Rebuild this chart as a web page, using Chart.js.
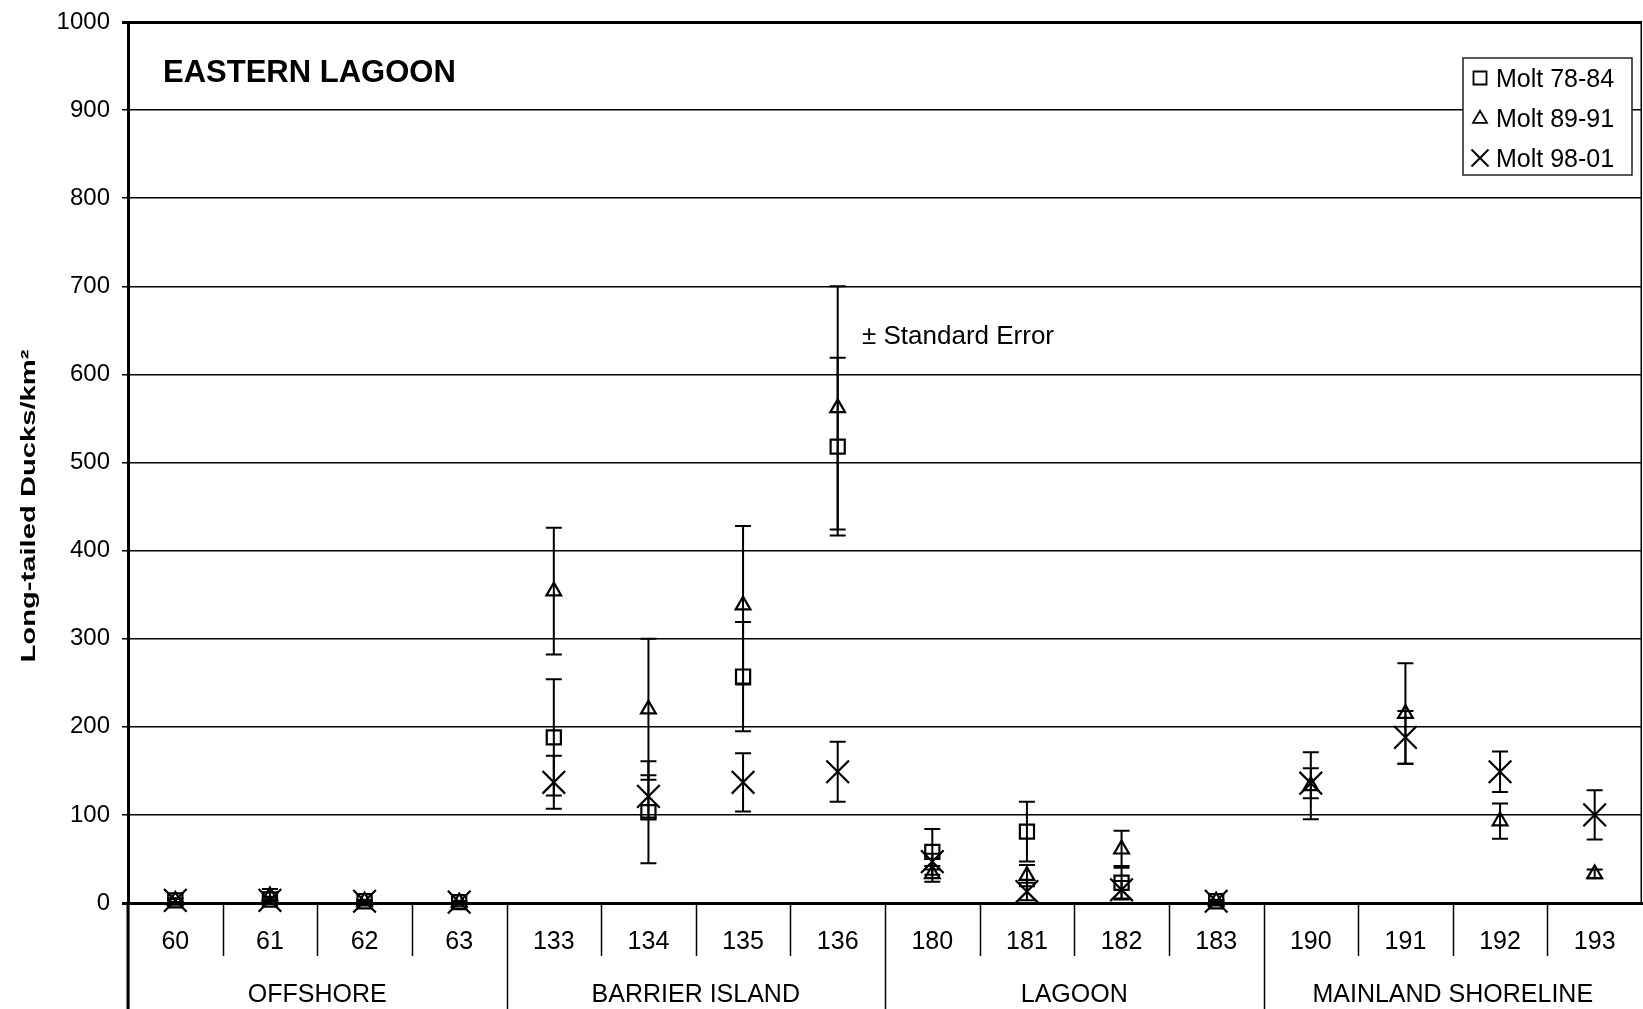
<!DOCTYPE html>
<html><head><meta charset="utf-8">
<script src="https://cdn.jsdelivr.net/npm/chart.js@4.4.1/dist/chart.umd.min.js"></script>
<style>html,body{margin:0;padding:0;background:#fff;}canvas{display:block;}</style>
</head><body>
<canvas id="c" width="1643" height="1009"></canvas>
<script>
const categories = ['60','61','62','63','133','134','135','136','180','181','182','183','190','191','192','193'];
const groups = ['OFFSHORE','BARRIER ISLAND','LAGOON','MAINLAND SHORELINE'];
const groupSizes = [4, 4, 4, 4];
const yTickValues = [0,100,200,300,400,500,600,700,800,900,1000];

const molt7884 = [3, 4, 2, 1, 188, 103, 257, 518, 58, 81, 23, 2, null, null, null, null];
const se7884   = [2, 3, 1, 1,  66,  58,  62, 101, 26, 34, 19, 1, null, null, null, null];
const molt8991 = [3, 8, 2, 1, 354, 220, 338, 562, 33, 31, 61, 2, 133, 215, 93, 33];
const se8991   = [2, 8, 1, 1,  72,  80,  90, 138,  9, 12, 21, 1,  38,  57, 20,  5];
const molt9801 = [3, 3, 2, 1, 137, 121, 137, 149, 47, 13, 15, 2, 136, 188, 149, 100];
const se9801   = [2, 3, 1, 1,  30,  24,  33,  34,  9, 10, 10, 1,  17,  30,  23,  28];

const chartTitle = 'EASTERN LAGOON';
const noteText = '\u00B1 Standard Error';
const yTitle = 'Long-tailed Ducks/km\u00B2';

const FONT = '"Liberation Sans", Arial, Helvetica, sans-serif';

function drawMarker(ctx, style, x, y, s) {
  ctx.beginPath();
  if (style === 'rect') {
    ctx.rect(x - s / 2, y - s / 2, s, s);
  } else if (style === 'triangle') {
    const h = s * 0.87;
    ctx.moveTo(x, y - h * 0.6);
    ctx.lineTo(x + s / 2, y + h * 0.4);
    ctx.lineTo(x - s / 2, y + h * 0.4);
    ctx.closePath();
  } else {
    ctx.moveTo(x - s / 2, y - s / 2); ctx.lineTo(x + s / 2, y + s / 2);
    ctx.moveTo(x + s / 2, y - s / 2); ctx.lineTo(x - s / 2, y + s / 2);
  }
  ctx.stroke();
}

const whiteBg = {
  id: 'whiteBg',
  beforeDraw(chart) {
    const ctx = chart.ctx;
    ctx.save(); ctx.fillStyle = '#fff';
    ctx.fillRect(0, 0, chart.width, chart.height); ctx.restore();
  }
};

const errorBars = {
  id: 'errorBars',
  afterDatasetsDraw(chart) {
    const ctx = chart.ctx;
    const xs = chart.scales.x, ys = chart.scales.y;
    ctx.save();
    ctx.strokeStyle = '#000';
    ctx.lineWidth = 2;
    chart.data.datasets.forEach(ds => {
      ds.data.forEach((v, i) => {
        if (v === null || ds.se[i] === null) return;
        const x = xs.getPixelForValue(i);
        const yt = ys.getPixelForValue(v + ds.se[i]);
        const yb = ys.getPixelForValue(Math.max(0, v - ds.se[i]));
        ctx.beginPath();
        ctx.moveTo(x, yt); ctx.lineTo(x, yb);
        ctx.moveTo(x - 8, yt); ctx.lineTo(x + 8, yt);
        ctx.moveTo(x - 8, yb); ctx.lineTo(x + 8, yb);
        ctx.stroke();
      });
    });
    ctx.restore();
  }
};

const decorations = {
  id: 'decorations',
  afterDraw(chart) {
    const ctx = chart.ctx;
    const xs = chart.scales.x;
    const area = chart.chartArea;
    ctx.save();
    ctx.strokeStyle = '#000';
    ctx.fillStyle = '#000';

    // dividers below axis
    ctx.lineWidth = 1.5;
    let b = 0;
    const groupBounds = [0];
    groupSizes.forEach(n => { b += n; groupBounds.push(b); });
    for (let k = 0; k < categories.length; k++) {
      const x = Math.round(xs.getPixelForValue(k - 0.5)) + 0.5;
      const isGroup = groupBounds.includes(k);
      ctx.beginPath();
      ctx.moveTo(x, area.bottom);
      ctx.lineTo(x, isGroup ? chart.height : area.bottom + 53);
      ctx.stroke();
    }
    // left axis extension
    ctx.lineWidth = 3;
    ctx.beginPath();
    ctx.moveTo(area.left, area.bottom); ctx.lineTo(area.left, chart.height);
    ctx.stroke();
    // right border
    ctx.lineWidth = 1.5;
    ctx.beginPath();
    ctx.moveTo(area.right - 0.75, area.top); ctx.lineTo(area.right - 0.75, area.bottom);
    ctx.stroke();

    // group labels
    ctx.font = '25px ' + FONT;
    ctx.textAlign = 'center';
    ctx.textBaseline = 'alphabetic';
    groups.forEach((g, gi) => {
      const s = groupBounds[gi], e = groupBounds[gi + 1];
      const x = xs.getPixelForValue((s + e - 1) / 2);
      ctx.fillText(g, x, 1002);
    });

    // chart title
    ctx.font = 'bold 31px ' + FONT;
    ctx.textAlign = 'left';
    ctx.fillText(chartTitle, 163, 82);

    // note
    ctx.font = '26px ' + FONT;
    ctx.fillText(noteText, 862, 344);

    // legend box
    const lx = 1463, ly = 58, lw = 169, lh = 117;
    ctx.fillStyle = '#fff';
    ctx.fillRect(lx, ly, lw, lh);
    ctx.strokeStyle = '#222';
    ctx.lineWidth = 1.5;
    ctx.strokeRect(lx, ly, lw, lh);
    ctx.fillStyle = '#000';
    ctx.strokeStyle = '#000';
    ctx.font = '25px ' + FONT;
    const legendSizes = {rect: 13, triangle: 14, crossRot: 17};
    chart.data.datasets.forEach((ds, i) => {
      const cy = 78 + i * 40;
      ctx.lineWidth = ds.pointStyle === 'crossRot' ? 2 : 1.8;
      drawMarker(ctx, ds.pointStyle, 1480, cy, legendSizes[ds.pointStyle]);
      ctx.fillText(ds.label, 1496, cy + 9);
    });

    // y title
    ctx.save();
    ctx.translate(29, 506);
    ctx.rotate(-Math.PI / 2);
    ctx.font = 'bold 21px ' + FONT;
    const w = ctx.measureText(yTitle).width;
    ctx.scale(313 / w, 1);
    ctx.textAlign = 'center';
    ctx.textBaseline = 'middle';
    ctx.fillText(yTitle, 0, 0);
    ctx.restore();

    ctx.restore();
  }
};

const commonPoint = {
  showLine: false,
  borderColor: '#000',
  backgroundColor: 'rgba(0,0,0,0)',
  pointBorderColor: '#000',
  pointBackgroundColor: 'rgba(0,0,0,0)',
  pointBorderWidth: 2.2,
  clip: false
};

new Chart(document.getElementById('c'), {
  type: 'line',
  data: {
    labels: categories,
    datasets: [
      Object.assign({}, commonPoint, {label: 'Molt 78-84', data: molt7884, se: se7884, pointStyle: 'rect', pointRadius: 10, pointHoverRadius: 10}),
      Object.assign({}, commonPoint, {label: 'Molt 89-91', data: molt8991, se: se8991, pointStyle: 'triangle', pointRadius: 8.5, pointHoverRadius: 8.5}),
      Object.assign({}, commonPoint, {label: 'Molt 98-01', data: molt9801, se: se9801, pointStyle: 'crossRot', pointRadius: 16, pointHoverRadius: 16})
    ]
  },
  options: {
    responsive: false,
    animation: false,
    events: [],
    layout: {autoPadding: false, padding: {top: 22, right: 1, bottom: 0, left: 0}},
    plugins: {legend: {display: false}, tooltip: {enabled: false}, title: {display: false}},
    scales: {
      x: {
        type: 'category',
        offset: true,
        grid: {display: false, drawTicks: false},
        border: {display: true, color: '#000', width: 3},
        ticks: {color: '#000', font: {family: FONT, size: 25}, padding: 24, maxRotation: 0, autoSkip: false},
        afterFit(scale) { scale.height = 106; scale.paddingLeft = 0; scale.paddingRight = 0; }
      },
      y: {
        min: 0, max: 1000,
        afterBuildTicks(scale) { scale.ticks = yTickValues.map(v => ({value: v})); },
        grid: {
          color: '#000',
          lineWidth: ctx => (ctx.tick && (ctx.tick.value === 1000 || ctx.tick.value === 0)) ? 3 : 1.5,
          tickLength: 6,
          drawTicks: true
        },
        border: {display: true, color: '#000', width: 3},
        ticks: {color: '#000', font: {family: FONT, size: 24}, padding: 12, callback: v => String(v)},
        afterFit(scale) { scale.width = 128; scale.paddingTop = 0; scale.paddingBottom = 0; }
      }
    }
  },
  plugins: [whiteBg, errorBars, decorations]
});
</script>
</body></html>
